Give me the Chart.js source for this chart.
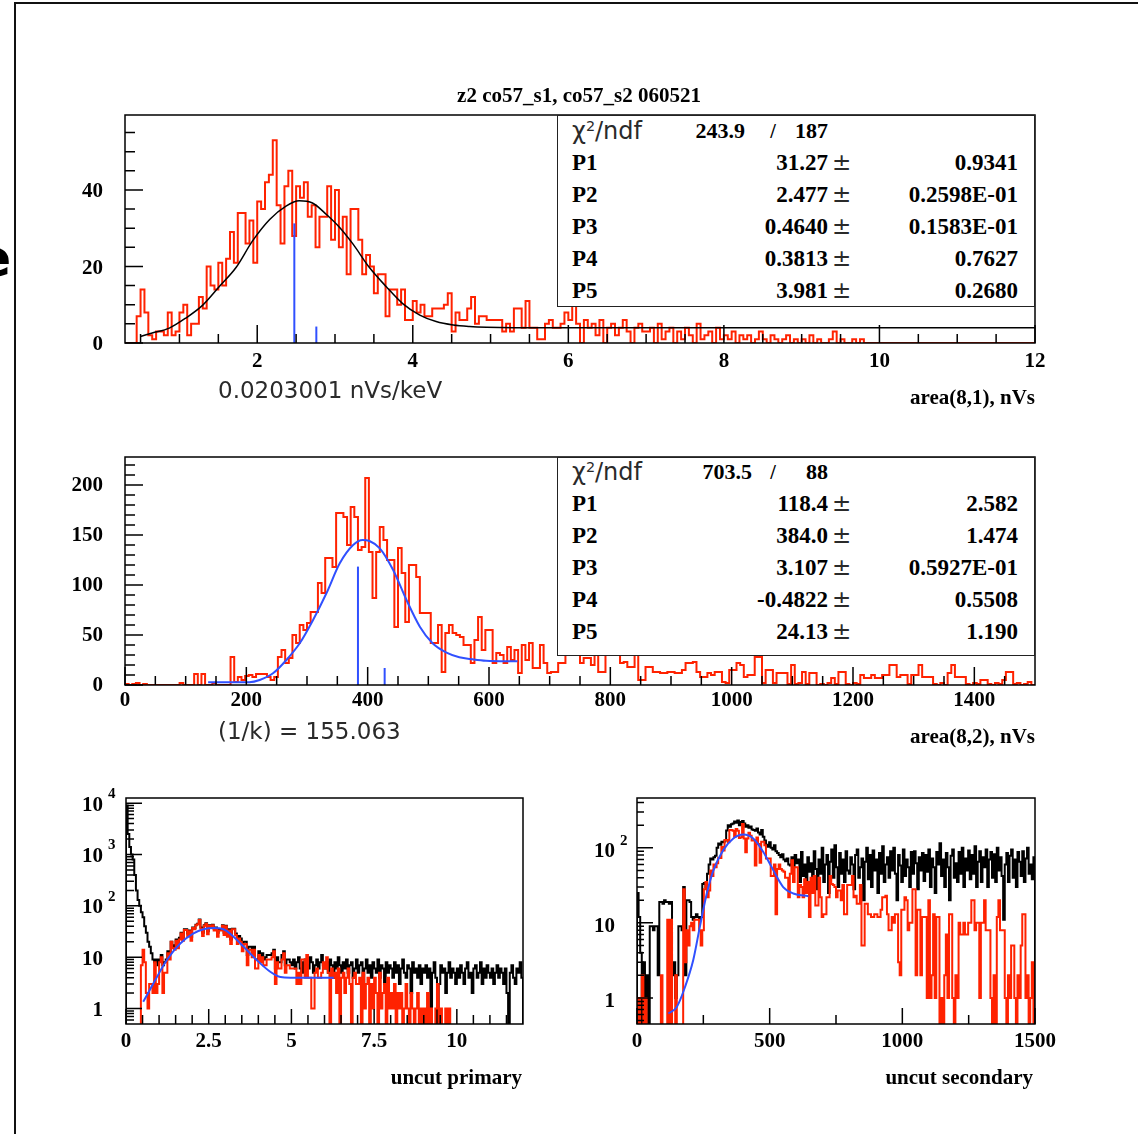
<!DOCTYPE html>
<html>
<head>
<meta charset="utf-8">
<title>z2 co57_s1, co57_s2 060521</title>
<script src="https://cdn.jsdelivr.net/npm/chart.js@4.4.1/dist/chart.umd.min.js"></script>
<style>
  html, body { margin: 0; padding: 0; background: #fff; }
  #page { position: relative; width: 1138px; height: 1134px; overflow: hidden; background: #fff; }
  #page canvas { position: absolute; left: 0; top: 0; }
  .t { position: absolute; white-space: nowrap; font-family: "Liberation Serif", serif; font-weight: bold; color: #000; }
  .s { position: absolute; white-space: nowrap; font-family: "DejaVu Sans", sans-serif; color: #2a2a2a; }
  .s sup { font-size: 60%; vertical-align: 0.55em; line-height: 0; }
  .box { position: absolute; background: #fff; border: 1.5px solid #222; box-sizing: border-box; }
  #frame { position: absolute; left: 14px; top: 2px; width: 1140px; height: 1140px; border-top: 2px solid #111; border-left: 2px solid #111; }
</style>
</head>
<body>
<div id="page">
  <div id="frame"></div>
  <canvas id="c1" width="1138" height="1134"></canvas>
  <canvas id="c2" width="1138" height="1134"></canvas>
  <canvas id="c3" width="1138" height="1134"></canvas>
  <canvas id="c4" width="1138" height="1134"></canvas>
</div>
<script>
// ---- data ----

// area(8,1): bins of 0.05 starting at 0.3
const s1Lo = 0.3, s1Bin = 0.05;
const s1Counts = [
  0,0,0,7,14,8,2,1,3,3,
  2,8,2,3,8,10,2,5,5,12,
  9,20,15,14,21,15,22,29,21,34,
  34,26,32,21,37,35,42,44,53,36,
  26,41,45,28,41,38,42,33,36,25,
  33,33,41,27,40,25,33,18,35,35,
  27,18,23,20,13,18,18,7,14,14,
  10,14,6,6,11,8,10,7,7,9,
  9,9,10,13,3,8,6,6,9,12,
  5,7,7,6,6,6,6,3,5,3,
  9,9,4,11,4,4,1,1,5,6,
  4,4,5,8,
  6,10,5,0,6,4,5,2,6,0,4,5,2,4,6,3,0,4,5,3,
  3,4,0,5,1,3,4,0,3,1,4,2,0,5,1,2,3,0,4,1,
  2,1,3,0,2,1,2,0,1,3,1,0,2,1,0,1,2,0,1,0,
  1,0,2,0,1,0,0,1,3,0,1,0,0,1,0,1,
  0,0,0,0,0,0,0,0,0,0,
  0,0,0,0,0,0,0,0,0,0,
  0,0,0,0,0,0,0,0,0,0,
  0,0,0,0,0,0,0,0,0,0,
  0,0,0,0
];

// area(8,2): bins of 6 starting at 0
const s2Lo = 0, s2Bin = 6;
const s2Counts = [
  1,0,1,2,0,1,0,0,0,0,
  0,0,0,0,0,2,0,0,0,11,
  0,11,0,0,2,0,0,0,0,28,
  3,8,5,9,10,8,11,11,11,8,
  5,8,28,35,22,27,50,42,60,55,
  62,73,73,102,92,127,127,118,172,172,
  168,140,178,168,135,138,207,133,87,133,
  158,145,125,125,58,137,112,63,120,120,
  108,72,72,72,42,42,60,13,52,60,
  52,50,48,40,40,22,45,68,35,55,
  55,22,32,30,22,38,25,35,12,40,
  25,42,17,17,40,22,12,13,13,22,
  22,42,33,32,30,22,27,27,20,32,
  13,13,32,32,32,42,22,23,18,18,
  32,5,5,18,18,13,13,12,12,13,
  13,12,12,15,22,22,23,13,8,8,
  12,10,13,13,3,2,15,15,22,20,
  8,10,10,28,28,2,15,15,2,12,
  12,12,1,20,1,2,13,1,12,12,
  0,1,0,2,7,1,13,13,1,0,
  2,1,10,7,7,10,7,7,10,10,
  20,20,8,10,10,1,10,10,20,8,
  8,8,1,0,2,0,12,20,8,8,
  8,1,0,2,1,5,5,1,0,2,
  1,5,13,13,1,2,0,1,3,0
];

// uncut primary: bins of 0.05 starting at 0
const u1Lo = 0, u1Bin = 0.05;
const u1Counts = [
  9000,2500,1400,1000,800,400,200,130,100,75,60,40,30,20,16,12,9,8,9,7,
  9,11,7,8,9,13,12,20,17,16,
  22,18,24,30,24,35,35,29,33,25,
  38,37,43,45,54,38,30,42,46,32,
  42,40,43,36,38,30,35,35,42,30,
  41,28,35,22,36,36,29,22,26,23,
  17,20,20,11,16,16,13,16,9,9,
  13,10,12,9,10,11,11,11,12,14,
  6,10,8,8,11,13,7,9,9,8,
  7,9,6,8,10,6,5,8,9,7,6,10,8,5,7,9,6,8,11,7,
  6,8,5,9,7,4,8,6,10,7,5,8,6,9,5,7,8,4,6,9,
  5,7,8,3,6,9,5,7,4,8,6,5,9,4,7,6,3,8,5,7,
  6,4,8,5,7,3,6,9,5,4,7,6,2,8,5,6,4,7,3,6,
  5,7,4,6,1,5,8,4,0,3,7,5,6,2,5,8,4,6,5,3,
  6,4,7,5,3,6,8,4,5,2,6,7,4,5,8,3,6,4,7,5,
  4,6,3,5,7,4,6,5,3,6,2,0,5,7,4,3,6,5,8,4
];

// uncut secondary: bins of 6 starting at 0
const u2Lo = 0, u2Bin = 6;
const u2Counts = [
  25,12,4,0,3,1,2,0,9,9,
  8,9,9,2,19,19,18,20,19,19,
  18,19,2,3,1,2,9,9,8,30,
  2,20,20,19,12,11,12,13,12,11,
  12,33,34,30,45,60,72,70,75,78,
  100,114,110,120,118,125,170,200,190,205,
  210,224,215,230,200,220,228,210,190,200,
  185,192,175,172,168,180,160,150,172,140,
  125,110,103,118,100,95,108,90,85,80,
  75,82,70,66,72,60,58,75,56,80,
  62,70,35,88,42,60,30,75,48,62,
  38,90,52,28,70,45,100,35,60,80,
  25,65,95,40,108,55,30,85,45,70,
  35,90,50,45,75,60,28,80,95,40,
  55,72,20,65,100,38,80,30,92,50,
  70,25,85,45,105,35,60,75,40,90,
  50,100,45,20,80,58,35,95,42,70,
  55,30,88,45,90,62,28,75,50,85,
  36,80,48,95,30,72,55,25,88,60,
  115,42,70,30,85,55,20,78,95,40,
  62,35,88,45,100,30,72,50,92,38,
  80,45,105,30,65,90,35,75,55,95,
  30,70,88,40,82,35,100,50,75,42,
  11,60,85,35,78,95,40,70,30,88,
  65,42,90,35,72,100,45,60,38,75
];

// fit curves, points
const fit1X = [0.50,0.65,0.87,1.08,1.30,1.51,1.73,1.94,2.16,2.37,2.54,2.71,2.89,3.06,3.23,3.44,3.66,3.87,4.09,4.30,4.52,4.73,4.95,5.30,5.90,12.0];
const fit1Y = [1.7,2.6,3.9,6.5,9.9,14.7,19.8,26.7,32.3,35.8,37.2,36.6,33.6,30.2,25.9,19.8,14.7,10.3,7.3,5.6,4.7,4.3,4.1,4.0,4.0,4.0];
const fit2X = [137,205,222,244,266,288,310,332,354,376,392,403,420,442,464,486,507,530,551,573,595,647];
const fit2Y = [2.7,2.8,5,11.7,25,41.7,65,91.7,121.7,140,145,144,136.7,115,85,58.3,41.7,32.3,27.7,25.7,24.3,23.7];
const fit3X = [0.52,0.83,1.23,1.64,2.04,2.34,2.65,2.95,3.25,3.56,3.96,4.36,4.67,4.97,6.28];
const fit3Y = [1.35,3.1,8.7,18.5,29,35,37,35,25,15.9,8.7,5.2,4.1,4.0,4.0];
const fit4X = [118,150,181,212,237,263,288,325,363,401,438,476,514,551,589,646];
const fit4Y = [0.62,0.76,1.4,3.2,8.9,24.6,50,93,133,150,133,88,50,30,24.6,22.6];

// blue marker lines [x, height]
const mark1 = [[2.477, 31.27], [2.76, 4.3]];
const mark2 = [[384.0, 118.4], [428, 17]];

// stats boxes
const parNames = ['P1', 'P2', 'P3', 'P4', 'P5'];
const stat1Chi = '243.9', stat1Ndf = '187';
const stat1Vals = ['31.27', '2.477', '0.4640', '0.3813', '3.981'];
const stat1Errs = ['0.9341', '0.2598E-01', '0.1583E-01', '0.7627', '0.2680'];
const stat2Chi = '703.5', stat2Ndf = '88';
const stat2Vals = ['118.4', '384.0', '3.107', '-0.4822', '24.13'];
const stat2Errs = ['2.582', '1.474', '0.5927E-01', '0.5508', '1.190'];

// axis ticks and labels
const p1XTicks = [2, 4, 6, 8, 10, 12];
const p1YTicks = [0, 20, 40];
const p2XTicks = [0, 200, 400, 600, 800, 1000, 1200, 1400];
const p2YTicks = [0, 50, 100, 150, 200];
const p3XTicks = [0, 2.5, 5, 7.5, 10];
const p3XLabels = ['0', '2.5', '5', '7.5', '10'];
const p3YTicks = [1, 10, 100, 1000, 10000];
const p3YLabels = ['1', '10', '10', '10', '10'];
const p3YExp = ['', '', '2', '3', '4'];
const p4XTicks = [0, 500, 1000, 1500];
const p4YTicks = [1, 10, 100];
const p4YLabels = ['1', '10', '10'];
const p4YExp = ['', '', '2'];

// ---- helpers ----
const W = 1138, H = 1134;
const RED = '#ff2200', BLUE = '#3050ff';

function range(lo, hi, step) {
  const r = [];
  for (let v = lo; v <= hi + 1e-9; v += step) r.push(+v.toFixed(6));
  return r;
}
function notIn(list, majors) {
  return list.filter(v => !majors.some(m => Math.abs(m - v) < 1e-6));
}
function logMinor(lo, hi) {
  const r = [];
  for (let e = -1; e <= 4; e++) {
    for (let k = 2; k <= 9; k++) {
      const v = k * Math.pow(10, e);
      if (v > lo && v < hi) r.push(v);
    }
  }
  return r;
}
// outline of a histogram as step points
function histPoints(counts, lo, bin, floor) {
  const pts = [{ x: lo, y: floor }];
  counts.forEach((c, i) => pts.push({ x: lo + i * bin, y: c > 0 ? c : floor }));
  const hi = lo + counts.length * bin;
  const last = counts[counts.length - 1];
  pts.push({ x: hi, y: last > 0 ? last : floor });
  pts.push({ x: hi, y: floor });
  return pts;
}
function curve(xs, ys) {
  return xs.map((x, i) => ({ x: x, y: ys[i] }));
}
function histSet(pts, color) {
  return { data: pts, borderColor: color, borderWidth: 2, stepped: true, pointRadius: 0, fill: false };
}
function fitSet(pts, color, w) {
  return { data: pts, borderColor: color, borderWidth: w, cubicInterpolationMode: 'monotone', pointRadius: 0, fill: false };
}
function markSets(marks) {
  return marks.map(m => ({
    data: [{ x: m[0], y: 0 }, { x: m[0], y: m[1] }],
    borderColor: BLUE, borderWidth: 2, pointRadius: 0, fill: false
  }));
}

// ROOT-like frame, inward ticks and labels
const rootFrame = {
  id: 'rootFrame',
  afterDatasetsDraw(chart, args, o) {
    const ctx = chart.ctx, a = chart.chartArea;
    const xs = chart.scales.x, ys = chart.scales.y;
    ctx.save();
    ctx.strokeStyle = '#000';
    ctx.lineWidth = 1.5;
    ctx.beginPath();
    o.xMajor.forEach(v => { const p = xs.getPixelForValue(v); ctx.moveTo(p, a.bottom); ctx.lineTo(p, a.bottom - o.xMajLen); });
    o.xMinor.forEach(v => { const p = xs.getPixelForValue(v); ctx.moveTo(p, a.bottom); ctx.lineTo(p, a.bottom - o.xMinLen); });
    o.yMajor.forEach(v => { const p = ys.getPixelForValue(v); ctx.moveTo(a.left, p); ctx.lineTo(a.left + o.yMajLen, p); });
    o.yMinor.forEach(v => { const p = ys.getPixelForValue(v); ctx.moveTo(a.left, p); ctx.lineTo(a.left + o.yMinLen, p); });
    ctx.stroke();
    ctx.strokeRect(a.left, a.top, a.right - a.left, a.bottom - a.top);

    ctx.fillStyle = '#000';
    ctx.font = 'bold 21px "Liberation Serif"';
    ctx.textAlign = 'center';
    ctx.textBaseline = 'middle';
    o.xMajor.forEach((v, i) => ctx.fillText(o.xLabels[i], xs.getPixelForValue(v), a.bottom + o.xDy));
    o.yMajor.forEach((v, i) => {
      const p = ys.getPixelForValue(v) + o.yDy;
      ctx.textAlign = 'right';
      ctx.font = 'bold 21px "Liberation Serif"';
      ctx.fillText(o.yLabels[i], a.left - o.yGap, p);
      if (o.yExp && o.yExp[i]) {
        ctx.textAlign = 'left';
        ctx.font = 'bold 15px "Liberation Serif"';
        ctx.fillText(o.yExp[i], a.left - o.yGap + 5, p - 11);
      }
    });
    ctx.restore();
  }
};

function makeChart(id, box, xScale, yScale, datasets, frameOpts) {
  return new Chart(document.getElementById(id), {
    type: 'line',
    data: { datasets: datasets },
    options: {
      responsive: false,
      animation: false,
      devicePixelRatio: 1,
      events: [],
      layout: { padding: { left: box[0], top: box[1], right: W - box[2], bottom: H - box[3] } },
      scales: {
        x: Object.assign({ display: false, bounds: 'data' }, xScale),
        y: Object.assign({ display: false, bounds: 'data' }, yScale)
      },
      plugins: { legend: { display: false }, tooltip: { enabled: false }, rootFrame: frameOpts }
    },
    plugins: [rootFrame]
  });
}

// ---- panel 1: area(8,1) ----
makeChart('c1', [125, 115, 1035, 343],
  { type: 'linear', min: 0.3, max: 12 },
  { type: 'linear', min: 0, max: 59.6 },
  [].concat(markSets(mark1), [
    fitSet(curve(fit1X, fit1Y), '#000', 1.5),
    histSet(histPoints(s1Counts, s1Lo, s1Bin, 0), RED)
  ]),
  {
    xMajor: p1XTicks, xMinor: notIn(range(0.5, 11.5, 0.5), p1XTicks), xLabels: p1XTicks.map(String),
    yMajor: p1YTicks, yMinor: notIn(range(5, 55, 5), p1YTicks), yLabels: p1YTicks.map(String),
    xMajLen: 18, xMinLen: 9, yMajLen: 18, yMinLen: 10, xDy: 19, yGap: 22, yDy: 2
  });

// ---- panel 2: area(8,2) ----
makeChart('c2', [125, 457, 1035, 685],
  { type: 'linear', min: 0, max: 1500 },
  { type: 'linear', min: 0, max: 228 },
  [].concat(markSets(mark2), [
    fitSet(curve(fit2X, fit2Y), BLUE, 2),
    histSet(histPoints(s2Counts, s2Lo, s2Bin, 0), RED)
  ]),
  {
    xMajor: p2XTicks, xMinor: notIn(range(50, 1450, 50), p2XTicks), xLabels: p2XTicks.map(String),
    yMajor: p2YTicks, yMinor: notIn(range(10, 220, 10), p2YTicks), yLabels: p2YTicks.map(String),
    xMajLen: 18, xMinLen: 9, yMajLen: 18, yMinLen: 10, xDy: 16, yGap: 22, yDy: 1
  });

// ---- panel 3: uncut primary (log) ----
makeChart('c3', [126, 798, 523, 1024],
  { type: 'linear', min: 0, max: 12 },
  { type: 'logarithmic', min: 0.5, max: 12600 },
  [
    fitSet(curve(fit3X, fit3Y), BLUE, 2),
    histSet(histPoints(s1Counts, s1Lo, s1Bin, 0.1), RED),
    histSet(histPoints(u1Counts, u1Lo, u1Bin, 0.1), '#000')
  ],
  {
    xMajor: p3XTicks, xMinor: notIn(range(0.5, 11.5, 0.5), p3XTicks), xLabels: p3XLabels,
    yMajor: p3YTicks, yMinor: logMinor(0.5, 12600), yLabels: p3YLabels, yExp: p3YExp,
    xMajLen: 15, xMinLen: 9, yMajLen: 16, yMinLen: 8, xDy: 18, yGap: 23, yDy: 2
  });

// ---- panel 4: uncut secondary (log) ----
makeChart('c4', [637, 798, 1035, 1024],
  { type: 'linear', min: 0, max: 1500 },
  { type: 'logarithmic', min: 0.45, max: 460 },
  [
    fitSet(curve(fit4X, fit4Y), BLUE, 2),
    histSet(histPoints(s2Counts, s2Lo, s2Bin, 0.1), RED),
    histSet(histPoints(u2Counts, u2Lo, u2Bin, 0.1), '#000')
  ],
  {
    xMajor: p4XTicks, xMinor: [250, 750, 1250], xLabels: p4XTicks.map(String),
    yMajor: p4YTicks, yMinor: logMinor(0.45, 460), yLabels: p4YLabels, yExp: p4YExp,
    xMajLen: 16, xMinLen: 9, yMajLen: 16, yMinLen: 7, xDy: 18, yGap: 22, yDy: 4
  });

// ---- texts ----
const page = document.getElementById('page');
function put(cls, html, x, y, align, size) {
  const d = document.createElement('div');
  d.className = cls;
  d.innerHTML = html;
  d.style.left = x + 'px';
  d.style.top = (y - size * 0.6) + 'px';
  d.style.fontSize = size + 'px';
  d.style.lineHeight = (size * 1.2) + 'px';
  if (align === 'right') d.style.transform = 'translateX(-100%)';
  if (align === 'center') d.style.transform = 'translateX(-50%)';
  page.appendChild(d);
  return d;
}
function statsBox(left, top, right, bottom, rowTop, chi, ndf, vals, errs, chiRight) {
  const b = document.createElement('div');
  b.className = 'box';
  b.style.left = left + 'px';
  b.style.top = top + 'px';
  b.style.width = (right - left) + 'px';
  b.style.height = (bottom - top) + 'px';
  page.appendChild(b);
  put('s', '&#967;<sup>2</sup>/ndf', 572, rowTop, 'left', 24);
  put('t', chi, chiRight, rowTop, 'right', 22);
  put('t', '/', 773, rowTop, 'center', 20);
  put('t', ndf, 828, rowTop, 'right', 22);
  parNames.forEach((n, i) => {
    const y = rowTop + 32 * (i + 1);
    put('t', n, 572, y, 'left', 23);
    put('t', vals[i], 828, y, 'right', 23);
    put('s', '&#177;', 832, y, 'left', 23);
    put('t', errs[i], 1018, y, 'right', 23);
  });
}

put('t', 'z2 co57_s1, co57_s2 060521', 579, 96, 'center', 21);
statsBox(557, 115, 1035, 307, 131, stat1Chi, stat1Ndf, stat1Vals, stat1Errs, 745);
put('s', '0.0203001 nVs/keV', 218, 391, 'left', 23);
put('t', 'area(8,1), nVs', 1035, 398, 'right', 21);

statsBox(557, 457, 1035, 656, 472, stat2Chi, stat2Ndf, stat2Vals, stat2Errs, 752);
put('s', '(1/k) = 155.063', 218, 732, 'left', 23);
put('t', 'area(8,2), nVs', 1035, 737, 'right', 21);

put('t', 'uncut primary', 522, 1078, 'right', 21);
put('t', 'uncut secondary', 1033, 1078, 'right', 21);

// clipped letter at the left edge of the page
const e = put('t', 'e', -24, 258, 'left', 52);
e.style.fontFamily = '"DejaVu Sans", sans-serif';
</script>
</body>
</html>
